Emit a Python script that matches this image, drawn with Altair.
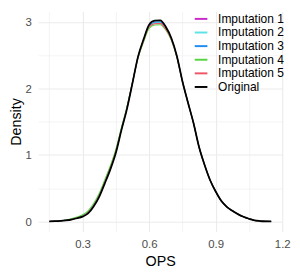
import altair as alt
import pandas as pd

ops = [0.150, 0.175, 0.200, 0.225, 0.250, 0.275, 0.300, 0.325, 0.350, 0.375,
       0.400, 0.425, 0.450, 0.475, 0.500, 0.525, 0.550, 0.575, 0.600, 0.625,
       0.650, 0.675, 0.700, 0.725, 0.750, 0.775, 0.800, 0.825, 0.850, 0.875,
       0.900, 0.925, 0.950, 0.975, 1.000, 1.025, 1.050, 1.075, 1.100, 1.125, 1.150]

original = [0.000, 0.003, 0.008, 0.016, 0.028, 0.048, 0.072, 0.120, 0.225, 0.370,
            0.570, 0.780, 1.030, 1.370, 1.690, 2.080, 2.480, 2.740, 2.960, 3.020,
            3.025, 2.930, 2.760, 2.490, 2.110, 1.790, 1.480, 1.120, 0.850, 0.620,
            0.450, 0.310, 0.220, 0.160, 0.110, 0.070, 0.040, 0.015, 0.006, 0.002, 0.000]

imp1 = [0.000, 0.003, 0.009, 0.018, 0.032, 0.055, 0.085, 0.140, 0.245, 0.395,
        0.600, 0.810, 1.060, 1.390, 1.710, 2.090, 2.470, 2.720, 2.930, 2.985,
        2.990, 2.900, 2.740, 2.480, 2.110, 1.790, 1.480, 1.120, 0.850, 0.620,
        0.450, 0.310, 0.220, 0.160, 0.110, 0.070, 0.040, 0.015, 0.006, 0.002, 0.000]

imp2 = [0.000, 0.003, 0.009, 0.019, 0.034, 0.057, 0.088, 0.145, 0.250, 0.400,
        0.605, 0.815, 1.065, 1.395, 1.715, 2.090, 2.465, 2.715, 2.925, 2.985,
        2.995, 2.905, 2.745, 2.485, 2.110, 1.790, 1.480, 1.120, 0.850, 0.620,
        0.450, 0.310, 0.220, 0.160, 0.110, 0.070, 0.040, 0.015, 0.006, 0.002, 0.000]

imp3 = [0.000, 0.003, 0.009, 0.018, 0.031, 0.053, 0.082, 0.135, 0.240, 0.390,
        0.595, 0.805, 1.055, 1.385, 1.705, 2.090, 2.475, 2.730, 2.945, 3.000,
        3.005, 2.915, 2.750, 2.485, 2.110, 1.790, 1.480, 1.120, 0.850, 0.620,
        0.450, 0.310, 0.220, 0.160, 0.110, 0.070, 0.040, 0.015, 0.006, 0.002, 0.000]

imp4 = [0.000, 0.004, 0.011, 0.022, 0.040, 0.065, 0.100, 0.160, 0.270, 0.420,
        0.625, 0.835, 1.085, 1.410, 1.725, 2.095, 2.455, 2.700, 2.905, 2.955,
        2.960, 2.880, 2.725, 2.470, 2.105, 1.790, 1.480, 1.120, 0.850, 0.620,
        0.450, 0.310, 0.220, 0.160, 0.110, 0.070, 0.040, 0.015, 0.006, 0.002, 0.000]

imp5 = [0.000, 0.003, 0.008, 0.017, 0.030, 0.052, 0.080, 0.132, 0.238, 0.385,
        0.590, 0.800, 1.050, 1.380, 1.700, 2.085, 2.470, 2.720, 2.930, 2.975,
        2.980, 2.895, 2.740, 2.480, 2.110, 1.790, 1.480, 1.120, 0.850, 0.620,
        0.450, 0.310, 0.220, 0.160, 0.110, 0.070, 0.040, 0.015, 0.006, 0.002, 0.000]

series_names = ["Imputation 1", "Imputation 2", "Imputation 3",
                "Imputation 4", "Imputation 5", "Original"]
series_values = [imp1, imp2, imp3, imp4, imp5, original]
series_colors = ["#C82AC8", "#5CE3E6", "#1E8CF0", "#55D43F", "#EE5566", "#000000"]

x_ticks = [0.15, 0.3, 0.45, 0.6, 0.75, 0.9, 1.05, 1.2]
y_ticks = [0, 0.5, 1, 1.5, 2, 2.5, 3]

rows = []
for name, vals in zip(series_names, series_values):
    for xv, dv in zip(ops, vals):
        rows.append({"OPS": xv, "Density": dv, "series": name})
df = pd.DataFrame(rows)

FONT = "Liberation Sans"

x_axis = alt.Axis(
    values=x_ticks,
    labelExpr="round(datum.value*100) % 30 == 0 ? format(datum.value, '.1f') : ''",
    grid=True, gridColor="#EBEBEB",
    gridWidth={"condition": {"test": "round(datum.value*100) % 30 == 0", "value": 1.1}, "value": 0.55},
    domain=False, ticks=False, tickSize=0,
    labelColor="#4D4D4D", labelFontSize=11.7, labelFont=FONT, labelPadding=8,
    labelFlush=False, labelOverlap=False,
    titleFontSize=14.7, titleFont=FONT, titleColor="#000000", titleFontWeight="normal",
    titlePadding=3,
)
y_axis = alt.Axis(
    values=y_ticks,
    labelExpr="round(datum.value*10) % 10 == 0 ? format(datum.value, 'd') : ''",
    grid=True, gridColor="#EBEBEB",
    gridWidth={"condition": {"test": "round(datum.value*10) % 10 == 0", "value": 1.1}, "value": 0.55},
    domain=False, ticks=False, tickSize=0,
    labelColor="#4D4D4D", labelFontSize=11.7, labelFont=FONT, labelPadding=7,
    labelFlush=False, labelOverlap=False,
    titleFontSize=14.7, titleFont=FONT, titleColor="#000000", titleFontWeight="normal",
    titlePadding=2,
)

chart = alt.Chart(df).mark_line(interpolate="monotone").encode(
    x=alt.X("OPS:Q", scale=alt.Scale(domain=[0.1, 1.2], nice=False, zero=False), axis=x_axis, title="OPS"),
    y=alt.Y("Density:Q", scale=alt.Scale(domain=[-0.15, 3.157], nice=False, zero=False), axis=y_axis, title="Density"),
    color=alt.Color(
        "series:N",
        scale=alt.Scale(domain=series_names, range=series_colors),
        title=None,
        legend=alt.Legend(
            orient="none", legendX=160, legendY=0, padding=0,
            symbolType="stroke", symbolSize=169, symbolStrokeWidth=2,
            labelFontSize=12.3, labelFont=FONT, labelColor="#000000",
            labelOffset=10, rowPadding=0,
        ),
    ),
    strokeWidth=alt.condition(alt.datum.series == "Original", alt.value(1.8), alt.value(1.1)),
).properties(
    width=251, height=226,
    autosize=alt.AutoSizeParams(type="none"),
    padding={"left": 31, "top": 0, "right": 10, "bottom": 37},
).configure_view(strokeWidth=0)

chart.save("out.html", embed_options={"renderer": "svg", "actions": False})
